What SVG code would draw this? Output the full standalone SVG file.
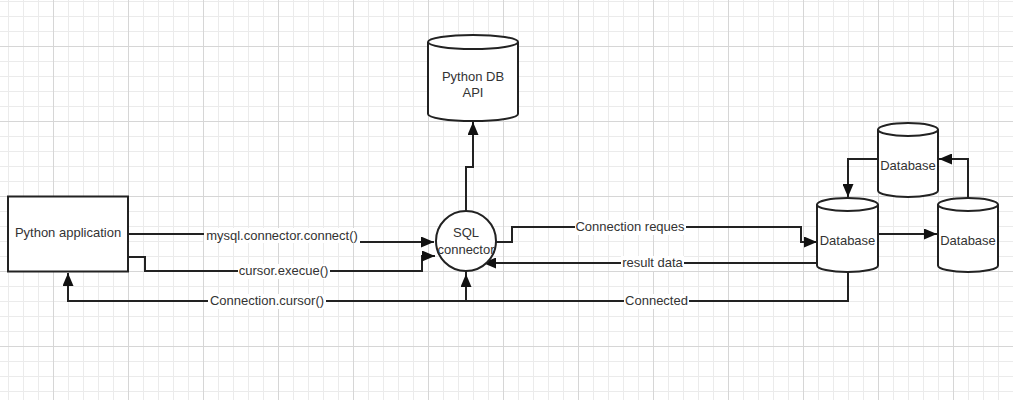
<svg xmlns="http://www.w3.org/2000/svg" width="1013" height="400" viewBox="0 0 1013 400">
<defs>
<pattern id="minor" x="8" y="1" width="15" height="15" patternUnits="userSpaceOnUse">
<path d="M0.5 0V15M0 0.5H15" fill="none" stroke="#ebebeb" stroke-width="1"/>
</pattern>
<pattern id="major" x="53" y="46" width="75" height="75" patternUnits="userSpaceOnUse">
<path d="M0.5 0V75M0 0.5H75" fill="none" stroke="#d6d6d6" stroke-width="1"/>
</pattern>
<marker id="arr" markerUnits="userSpaceOnUse" markerWidth="13" markerHeight="11" refX="13" refY="5.5" orient="auto">
<path d="M0 0L13 5.5L0 11Z" fill="#111"/>
</marker>
<style>
.shape{fill:#fff;stroke:#222;stroke-width:2}
.line{fill:none;stroke:#222;stroke-width:2}
.t{font-family:"Liberation Sans",Arial,sans-serif;font-size:13px;fill:#333;text-anchor:middle}
.bg{fill:#fff}
</style>
</defs>
<rect width="1013" height="400" fill="#fff"/>
<rect width="1013" height="400" fill="url(#minor)"/>
<rect width="1013" height="400" fill="url(#major)"/>

<g id="connectors">
<path class="line" d="M128 234H282V242H434" marker-end="url(#arr)"/>
<path class="line" d="M128 257H145V271H422V256H435" marker-end="url(#arr)"/>
<path class="line" d="M466 271V301H68V273" marker-end="url(#arr)"/>
<path class="line" d="M848 272V301H466V274" marker-end="url(#arr)"/>
<path class="line" d="M466 211V167H473V122" marker-end="url(#arr)"/>
<path class="line" d="M496 242H512V227H801V242H817" marker-end="url(#arr)"/>
<path class="line" d="M818 263H483" marker-end="url(#arr)"/>
<path class="line" d="M878 159H848V197" marker-end="url(#arr)"/>
<path class="line" d="M878 234H937" marker-end="url(#arr)"/>
<path class="line" d="M968 198V159H939" marker-end="url(#arr)"/>
<path d="M470 259L482 264.5L470 270Z" fill="#111"/>
<rect class="bg" x="204" y="228" width="156" height="15"/>
<text class="t" x="282" y="240">mysql.connector.connect()</text>
<rect class="bg" x="238" y="264" width="92" height="15"/>
<text class="t" x="283.5" y="275">cursor.execue()</text>
<rect class="bg" x="208" y="294" width="118" height="15"/>
<text class="t" x="267" y="305">Connection.cursor()</text>
<rect class="bg" x="575" y="220" width="111" height="15"/>
<text class="t" x="630" y="231">Connection reques</text>
<rect class="bg" x="621" y="256" width="63" height="15"/>
<text class="t" x="652.5" y="267">result data</text>
<rect class="bg" x="624" y="294" width="65" height="15"/>
<text class="t" x="656.5" y="305">Connected</text>
</g>

<g id="python-app">
<rect class="shape" x="8" y="196.5" width="120" height="75"/>
<text class="t" x="68" y="237">Python application</text>
</g>

<g id="sql-connector">
<circle class="shape" cx="466" cy="241" r="30"/>
<text class="t" x="466" y="237">SQL</text>
<text class="t" x="466" y="254">connector</text>
</g>

<g id="python-db-api">
<path class="shape" d="M428 42A45 7 0 0 1 518 42V114A45 7 0 0 1 428 114Z"/>
<path class="line" d="M428 42A45 7 0 0 0 518 42"/>
<text class="t" x="473" y="81">Python DB</text>
<text class="t" x="473" y="97">API</text>
</g>

<g id="database-main">
<path class="shape" d="M817 204.5A30.5 6.5 0 0 1 878 204.5V265.5A30.5 6.5 0 0 1 817 265.5Z"/>
<path class="line" d="M817 204.5A30.5 6.5 0 0 0 878 204.5"/>
<text class="t" x="847.5" y="245">Database</text>
</g>

<g id="database-top">
<path class="shape" d="M878 129.5A30 6.5 0 0 1 938 129.5V190.5A30 6.5 0 0 1 878 190.5Z"/>
<path class="line" d="M878 129.5A30 6.5 0 0 0 938 129.5"/>
<text class="t" x="908" y="170">Database</text>
</g>

<g id="database-right">
<path class="shape" d="M938 204.5A30 6.5 0 0 1 998 204.5V265.5A30 6.5 0 0 1 938 265.5Z"/>
<path class="line" d="M938 204.5A30 6.5 0 0 0 998 204.5"/>
<text class="t" x="968" y="245">Database</text>
</g>
</svg>
